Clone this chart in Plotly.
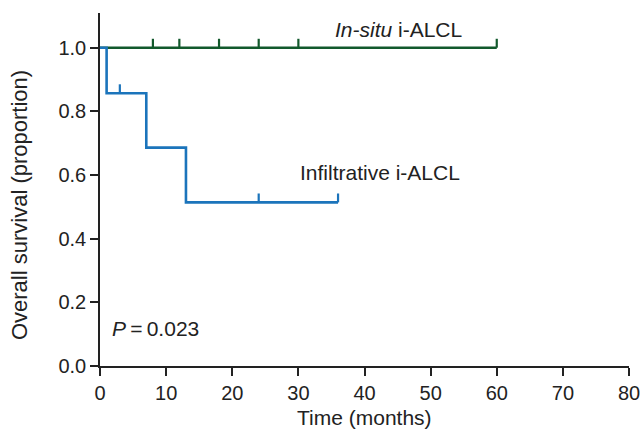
import plotly.graph_objects as go

# ---- data ----
insitu_times = [0, 60]
insitu_surv = [1.0, 1.0]
insitu_censor = [8, 12, 18, 24, 30, 60]

infil_times = [0, 1, 7, 13, 36]
infil_surv = [1.0, 0.857, 0.686, 0.514, 0.514]
infil_censor = [3, 24, 36]

x_ticks = [0, 10, 20, 30, 40, 50, 60, 70, 80]
y_ticks = [0.0, 0.2, 0.4, 0.6, 0.8, 1.0]

GREEN = "#12592c"
BLUE = "#1b74bb"
FONT = "Liberation Sans, Arial, sans-serif"
TICK_H = 0.028


def surv_at(t, times, surv):
    s = surv[0]
    for ti, si in zip(times, surv):
        if ti <= t:
            s = si
    return s


def censor_segments(ct, times, surv):
    xs, ys = [], []
    for t in ct:
        s = surv_at(t, times, surv)
        xs += [t, t, None]
        ys += [s, s + TICK_H, None]
    return xs, ys


fig = go.Figure()

# in-situ
fig.add_trace(go.Scatter(x=insitu_times, y=insitu_surv, mode="lines",
                         line=dict(color=GREEN, width=2.6, shape="hv"),
                         showlegend=False, hoverinfo="skip"))
cx, cy = censor_segments(insitu_censor, insitu_times, insitu_surv)
fig.add_trace(go.Scatter(x=cx, y=cy, mode="lines",
                         line=dict(color=GREEN, width=2.2),
                         showlegend=False, hoverinfo="skip"))

# infiltrative
fig.add_trace(go.Scatter(x=infil_times, y=infil_surv, mode="lines",
                         line=dict(color=BLUE, width=2.6, shape="hv"),
                         showlegend=False, hoverinfo="skip"))
cx, cy = censor_segments(infil_censor, infil_times, infil_surv)
fig.add_trace(go.Scatter(x=cx, y=cy, mode="lines",
                         line=dict(color=BLUE, width=2.2),
                         showlegend=False, hoverinfo="skip"))

annotations = [
    dict(text="<i>In-situ</i> i-ALCL", x=35.2, y=1.058, xref="x", yref="y",
         xanchor="left", yanchor="middle", showarrow=False,
         font=dict(family=FONT, size=21, color="#222222")),
    dict(text="Infiltrative i-ALCL", x=29.9, y=0.609, xref="x", yref="y",
         xanchor="left", yanchor="middle", showarrow=False,
         font=dict(family=FONT, size=21, color="#222222")),
    dict(text="<i>P</i>\u2009=\u20090.023", x=1.45, y=0.118, xref="x", yref="y",
         xanchor="left", yanchor="middle", showarrow=False,
         font=dict(family=FONT, size=21, color="#222222")),
    dict(text="Overall survival (proportion)", x=-0.153, y=0.456,
         xref="paper", yref="paper", textangle=-90,
         xanchor="center", yanchor="middle", showarrow=False,
         font=dict(family=FONT, size=22, color="#222222")),
    dict(text="Time (months)", x=0.5, y=-0.147,
         xref="paper", yref="paper",
         xanchor="center", yanchor="middle", showarrow=False,
         font=dict(family=FONT, size=21, color="#222222")),
]

fig.update_layout(
    template="none",
    width=641, height=431,
    margin=dict(l=100, r=12, t=13, b=65, autoexpand=False),
    paper_bgcolor="white", plot_bgcolor="white",
    font=dict(family=FONT, size=20, color="#222222"),
    annotations=annotations,
    xaxis=dict(range=[0, 80], tickvals=x_ticks, ticktext=[str(v) for v in x_ticks],
               automargin=False,
               showgrid=False, zeroline=False, showline=True, linecolor="#222222",
               linewidth=1.5, ticks="outside", ticklen=8, tickwidth=1.5,
               tickcolor="#222222", tickfont=dict(size=20)),
    yaxis=dict(range=[0, 1.109], tickvals=y_ticks,
               ticktext=[f"{v:.1f}" for v in y_ticks],
               automargin=False,
               showgrid=False, zeroline=False, showline=True, linecolor="#222222",
               linewidth=1.5, ticks="outside", ticklen=8, tickwidth=1.5,
               tickcolor="#222222", tickfont=dict(size=20)),
)

fig.write_html(
    "out.html",
    config={"displayModeBar": False},
    post_script="document.body.style.margin='0';document.body.style.overflow='hidden';",
)
